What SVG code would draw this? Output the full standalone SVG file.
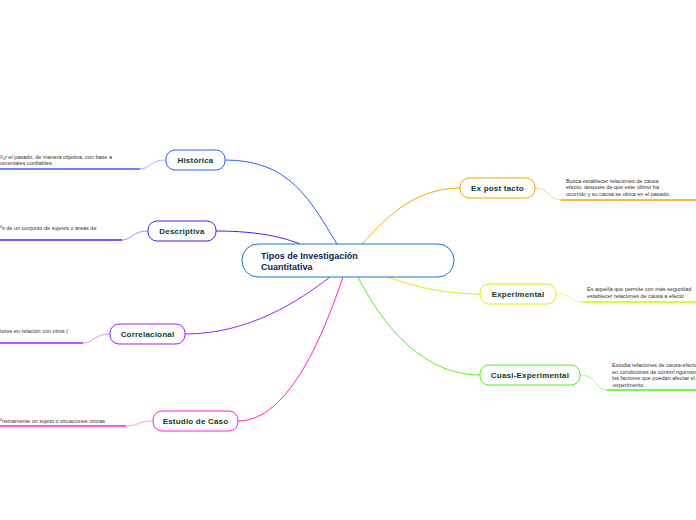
<svg xmlns="http://www.w3.org/2000/svg" width="696" height="520" viewBox="0 0 696 520">
<style>
text{font-family:"Liberation Sans",Arial,sans-serif}
.n{font-size:8px;font-weight:bold;fill:#0d3b2e;text-anchor:middle;letter-spacing:0.2px}
.t{font-size:5.5px;fill:#333}
.b{fill:#fff;stroke-width:1}
path{fill:none}
</style>
<rect width="696" height="520" fill="#fff"/>
<g id="connectors" stroke-width="1">
<path d="M225,160 C290,160 310,200 337,244" stroke="#2a5cff"/>
<path d="M216,231 C260,231 285,238 300,244" stroke="#4a1cff"/>
<path d="M185,334 C250,334 300,300 330,277" stroke="#a020f0"/>
<path d="M238,421 C290,421 325,330 343,277" stroke="#ff20d0"/>
<path d="M460,188 C410,188 380,225 362,244" stroke="#ffa000"/>
<path d="M480,294 C440,294 410,285 388,277" stroke="#d8f000"/>
<path d="M480,375 C420,375 380,320 358,277" stroke="#50f020"/>
<path d="M166,160 C150,160 150,169 140,169" stroke="#9fb2ff"/>
<path d="M0,169 L140,169" stroke="#2a5cff" stroke-width="1.5"/>
<path d="M148,231 C132,231 132,240 122,240" stroke="#a390ff"/>
<path d="M0,240 L122,240" stroke="#4a1cff" stroke-width="1.5"/>
<path d="M110,334 C94,334 94,343 83,343" stroke="#d49af7"/>
<path d="M0,343 L83,343" stroke="#a020f0" stroke-width="1.5"/>
<path d="M153,421 C138,421 138,426 126,426" stroke="#ff9aea"/>
<path d="M0,426 L126,426" stroke="#ff20d0" stroke-width="1.5"/>
<path d="M535,188 C550,188 548,200 561,200" stroke="#ffd080"/>
<path d="M561,200 L696,200" stroke="#ffa000" stroke-width="1.5"/>
<path d="M556,294 C572,294 570,302 583,302" stroke="#ecf880"/>
<path d="M583,302 L696,302" stroke="#d8f000" stroke-width="1.5"/>
<path d="M580,375 C598,375 594,390 607,390" stroke="#a8f890"/>
<path d="M607,390 L696,390" stroke="#50f020" stroke-width="1.5"/>
</g>
<g id="central"><rect x="242" y="244" width="212" height="33" rx="16" class="b" stroke="#1a7ac0"/>
<text x="261" y="258.5" style="font-size:9px;font-weight:bold;fill:#0e2450">Tipos de Investigación</text>
<text x="261" y="270" style="font-size:9px;font-weight:bold;fill:#0e2450">Cuantitativa</text></g>
<g id="historica"><rect x="166" y="150" width="59" height="20" rx="9" class="b" stroke="#2a5cff"/><text x="195.5" y="163" class="n">Histórica</text>
<text x="0" y="158.5" class="t">¹⁄₄r el pasado, de manera objetiva, con base a</text><text x="0" y="165" class="t">umentales confiables.</text></g>
<g id="descriptiva"><rect x="148" y="221" width="68" height="20" rx="9" class="b" stroke="#4a1cff"/><text x="182" y="234" class="n">Descriptiva</text>
<text x="0" y="230" class="t">ºs de un conjunto de sujetos o áreas de</text></g>
<g id="correlacional"><rect x="110" y="324" width="75" height="20" rx="9" class="b" stroke="#a020f0"/><text x="147.5" y="337" class="n">Correlacional</text>
<text x="0" y="333" class="t">tores en relación con otros (</text></g>
<g id="estudio"><rect x="153" y="411" width="85" height="20" rx="9" class="b" stroke="#ff20d0"/><text x="195.5" y="424" class="n">Estudio de Caso</text>
<text x="0" y="423" class="t">ºnsivamente un sujeto o situaciones únicas</text></g>
<g id="expost"><rect x="460" y="178" width="75" height="20" rx="9" class="b" stroke="#ffa000"/><text x="497.5" y="191" class="n">Ex post tacto</text>
<text x="566" y="182.5" class="t">Busca establecer relaciones de causa</text><text x="566" y="189" class="t">efecto, después de que este último ha</text><text x="566" y="195.5" class="t">ocurrido y su causa se ubica en el pasado.</text></g>
<g id="experimental"><rect x="480" y="284" width="76" height="20" rx="9" class="b" stroke="#d8f000"/><text x="518" y="297" class="n">Experimental</text>
<text x="587" y="291" class="t">Es aquella que permite con más seguridad</text><text x="587" y="298" class="t">establecer relaciones de causa a efecto</text></g>
<g id="cuasi"><rect x="480" y="365" width="100" height="20" rx="9" class="b" stroke="#50f020"/><text x="530" y="378" class="n">Cuasi-Experimental</text>
<text x="612" y="367" class="t">Estudia relaciones de causa-efecto</text><text x="612" y="373.5" class="t">en condiciones de control riguroso de</text><text x="612" y="380" class="t">los factores que puedan afectar el</text><text x="613" y="386.5" class="t">experimento.</text></g>
</svg>
